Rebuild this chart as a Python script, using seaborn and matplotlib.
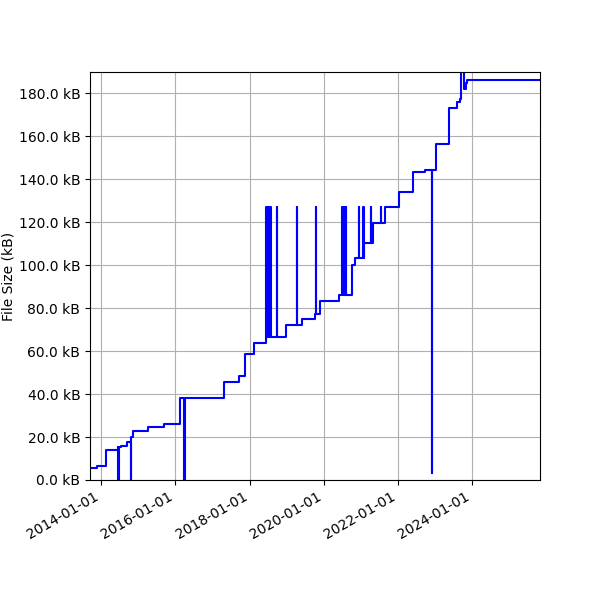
import matplotlib
matplotlib.use('Agg')
import matplotlib.pyplot as plt
import matplotlib.dates as mdates
from matplotlib.ticker import FuncFormatter, MultipleLocator
import numpy as np
import pandas as pd
import seaborn as sns

# file size history (kB)
dates = [
    '2013-09-13', '2013-11-24', '2014-02-17', '2014-06-14', '2014-06-18',
    '2014-06-21', '2014-07-16', '2014-09-16', '2014-10-19', '2014-10-22',
    '2014-11-13', '2015-04-05', '2015-09-09', '2016-02-17', '2016-03-28',
    '2016-04-01', '2017-04-20', '2017-09-20', '2017-11-21', '2018-02-10',
    '2018-06-08', '2018-06-11', '2018-06-15', '2018-06-19', '2018-06-24',
    '2018-06-28', '2018-07-03', '2018-07-07', '2018-07-12', '2018-07-16',
    '2018-07-21', '2018-07-26', '2018-09-27', '2018-09-29', '2018-12-24',
    '2019-04-08', '2019-04-10', '2019-05-30', '2019-10-08', '2019-10-14',
    '2019-10-17', '2019-11-24', '2020-06-03', '2020-07-01',
    '2020-07-05', '2020-07-10', '2020-07-14', '2020-07-19', '2020-07-23',
    '2020-07-28', '2020-08-02', '2020-08-07', '2020-08-12', '2020-10-08',
    '2020-11-06', '2020-12-13', '2020-12-15', '2021-01-25', '2021-01-27',
    '2021-02-05', '2021-04-13', '2021-04-15', '2021-05-01', '2021-07-13',
    '2021-07-15', '2021-08-22', '2022-01-15', '2022-05-27', '2022-09-24',
    '2022-11-29', '2022-12-02', '2023-01-08', '2023-05-16', '2023-08-08',
    '2023-08-30', '2023-09-13', '2023-10-13', '2023-11-01', '2023-11-11',
    '2025-10-30',
]
size_kb = [
    5.5, 6.5, 14.0, 15.2, 0.0,
    15.2, 16.0, 17.8, 0.0, 20.1,
    22.8, 24.7, 25.9, 38.3, 0.0,
    38.3, 45.7, 48.2, 58.5, 63.6,
    127.0, 63.6, 127.0, 66.7, 127.0,
    66.7, 127.0, 66.7, 127.0, 66.7,
    127.0, 66.7, 127.0, 66.7, 72.1,
    127.0, 72.1, 75.2, 77.5, 127.0,
    77.5, 83.5, 86.2, 127.0,
    86.2, 127.0, 86.2, 127.0, 86.2,
    127.0, 86.2, 127.0, 86.2, 100.3,
    103.4, 127.0, 103.4, 127.0, 103.4,
    110.6, 127.0, 110.6, 119.6, 127.0,
    119.6, 127.0, 134.1, 143.4, 144.5,
    3.3, 144.5, 156.3, 173.2, 176.2,
    177.5, 200.0, 182.2, 184.8, 186.4,
    186.4,
]

df = pd.DataFrame({'date': pd.to_datetime(dates), 'size': size_kb})

fig, ax = plt.subplots(figsize=(6, 6), dpi=100)
sns.lineplot(data=df, x='date', y='size', ax=ax, color='blue',
             drawstyle='steps-post', linewidth=1.5, sort=False)

ax.set_xlim(df['date'].min(), df['date'].max())
ax.set_ylim(0, 190)
ax.yaxis.set_major_locator(MultipleLocator(20))
ax.yaxis.set_major_formatter(FuncFormatter(lambda v, p: f'{v:.1f} kB'))
ax.xaxis.set_major_locator(mdates.YearLocator(2))
ax.xaxis.set_major_formatter(mdates.DateFormatter('%Y-%m-%d'))
ax.set_xlabel('')
ax.set_ylabel('File Size (kB)')
ax.yaxis.set_label_coords(-0.166, 0.5)
ax.grid(True)
fig.autofmt_xdate()
plt.subplots_adjust(left=0.15, right=0.9, top=0.88, bottom=0.2)

plt.savefig('out.png')
